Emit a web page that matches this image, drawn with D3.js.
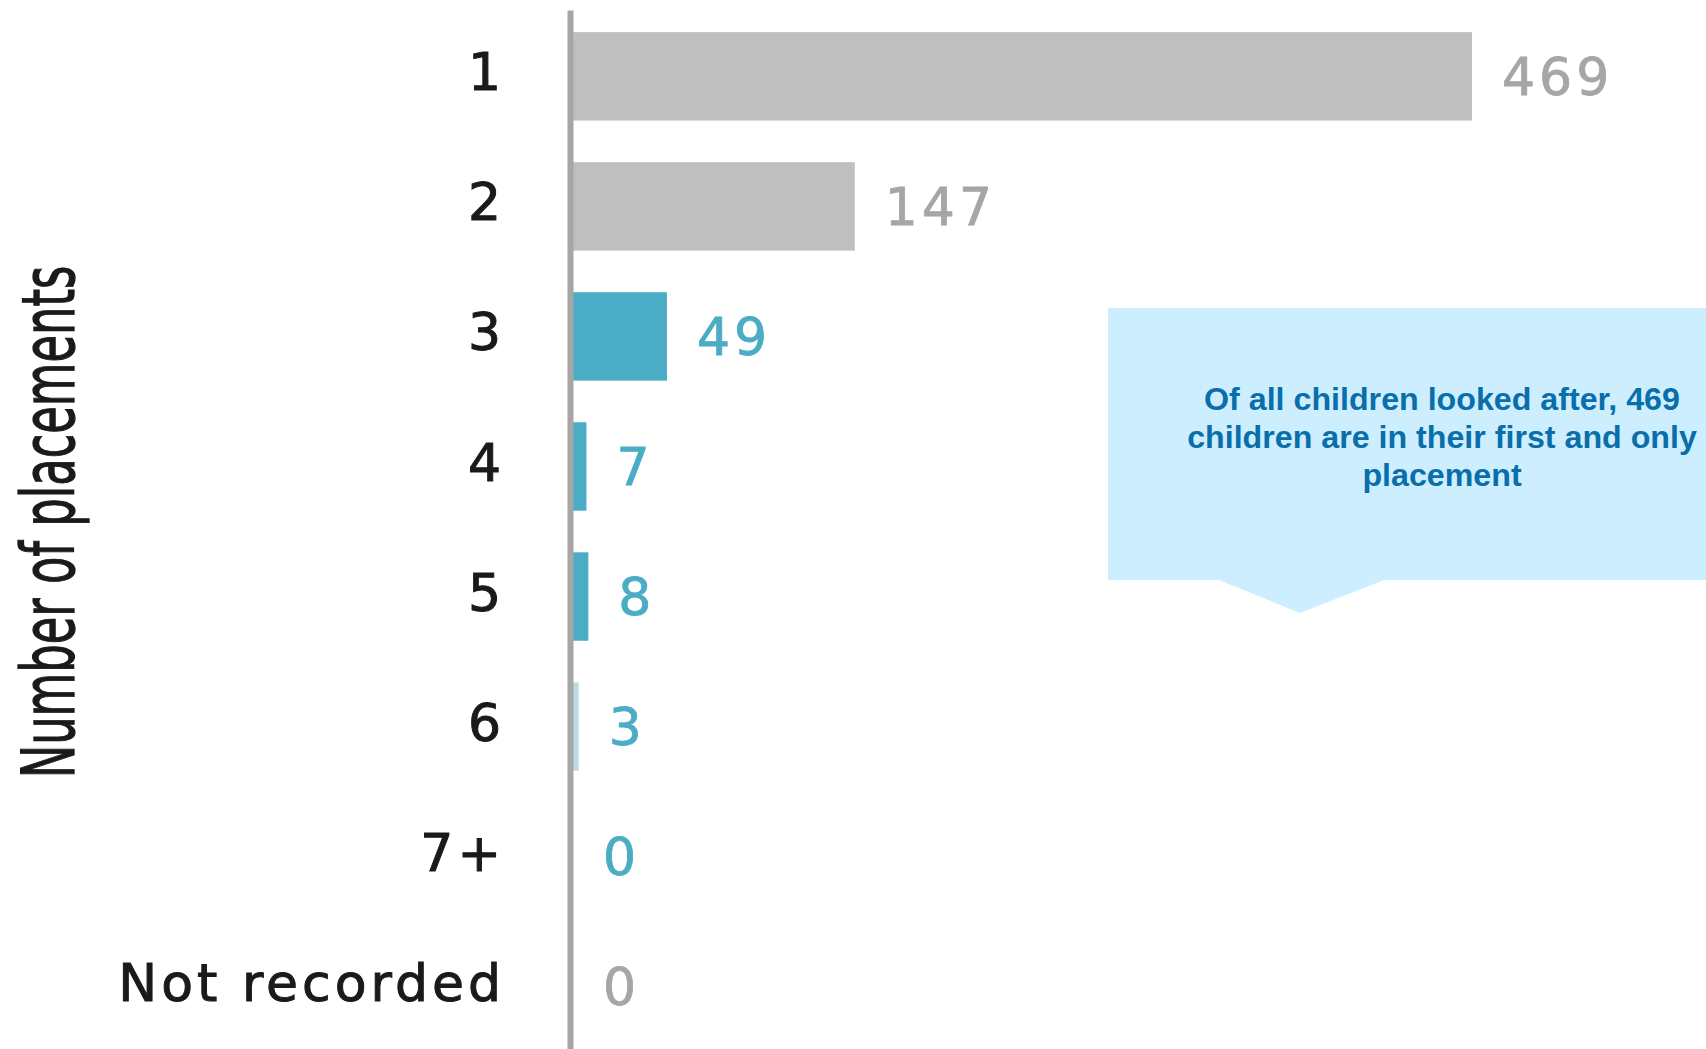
<!doctype html>
<html lang="en">
<head>
  <meta charset="utf-8">
  <title>Number of placements</title>
</head>

<style>
body {
  margin: 0;
  background: #fff;
}
</style>

<body>
  <script src="https://d3js.org/d3.v7.min.js"></script>
  <script>

  var categories = ["1", "2", "3", "4", "5", "6", "7+", "Not recorded"];
  var values = [469, 147, 49, 7, 8, 3, 0, 0];
  var calloutLines = [
    "Of all children looked after, 469",
    "children are in their first and only",
    "placement"
  ];
  var axisTitle = "Number of placements";

  // colours per category (bars and value labels)
  var barColour = {
    "1": "#bfbfbf", "2": "#bfbfbf", "3": "#4bacc6", "4": "#4bacc6",
    "5": "#4bacc6", "6": "#bcdbe6", "7+": "#4bacc6", "Not recorded": "#4bacc6"
  };
  var labelColour = {
    "1": "#a6a6a6", "2": "#a6a6a6", "3": "#4bacc6", "4": "#4bacc6",
    "5": "#4bacc6", "6": "#4bacc6", "7+": "#4bacc6", "Not recorded": "#a6a6a6"
  };

  var width = 1706, height = 1049;

  var svg = d3.select("body").append("svg")
    .attr("width", width)
    .attr("height", height);

  var data = categories.map(function (c, i) {
    return { cat: c, value: values[i] };
  });

  var x = d3.scaleLinear()
    .domain([0, d3.max(values)])
    .range([573, 1472]);

  var y = d3.scaleBand()
    .domain(categories)
    .range([10, 1053])
    .paddingInner(0.32)
    .paddingOuter(0.17);

  // bars
  svg.selectAll(".bar")
    .data(data)
    .join("rect")
    .classed("bar", true)
    .attr("x", x(0))
    .attr("y", function (d) { return y(d.cat); })
    .attr("width", function (d) { return x(d.value) - x(0); })
    .attr("height", y.bandwidth())
    .attr("fill", function (d) { return barColour[d.cat]; });

  // value labels
  svg.selectAll(".val")
    .data(data)
    .join("text")
    .classed("val", true)
    .attr("x", function (d) { return x(d.value) + 30; })
    .attr("y", function (d) { return y(d.cat) + y.bandwidth() / 2; })
    .attr("dy", "0.36em")
    .attr("font-family", "DejaVu Sans, sans-serif")
    .attr("font-size", 52)
    .attr("letter-spacing", 4)
    .attr("fill", function (d) { return labelColour[d.cat]; })
    .attr("stroke", function (d) { return labelColour[d.cat]; })
    .attr("stroke-width", 0.8)
    .text(function (d) { return d.value; });

  // category axis
  var axis = svg.append("g")
    .attr("transform", "translate(570,0)")
    .call(d3.axisLeft(y).tickSize(0).tickSizeOuter(0).tickPadding(65));

  axis.select(".domain")
    .attr("stroke", "#a6a6a6")
    .attr("stroke-width", 6);

  axis.selectAll("text")
    .attr("font-family", "DejaVu Sans, sans-serif")
    .attr("font-size", 52)
    .attr("letter-spacing", 4)
    .attr("dy", "0.27em")
    .attr("fill", "#1a1a1a")
    .attr("stroke", "#1a1a1a")
    .attr("stroke-width", 1);

  // axis title
  svg.append("text")
    .attr("transform", "translate(74,522) rotate(-90) scale(0.8,1.3)")
    .attr("text-anchor", "middle")
    .attr("font-family", "DejaVu Sans, sans-serif")
    .attr("font-size", 56)
    .attr("fill", "#1a1a1a")
    .attr("stroke", "#1a1a1a")
    .attr("stroke-width", 1)
    .text(axisTitle);

  // callout
  svg.append("path")
    .attr("d", "M1108,308 H1720 V580 H1384 L1300,613 L1219,580 H1108 Z")
    .attr("fill", "#cceeff");

  svg.append("g")
    .selectAll("text")
    .data(calloutLines)
    .join("text")
    .attr("x", 1442)
    .attr("y", function (d, i) { return 410 + i * 38; })
    .attr("text-anchor", "middle")
    .attr("font-family", "Liberation Sans, Arial, sans-serif")
    .attr("font-weight", "bold")
    .attr("font-size", 32.2)
    .attr("fill", "#0a6eaa")
    .text(function (d) { return d; });

  </script>
</body>
</html>
